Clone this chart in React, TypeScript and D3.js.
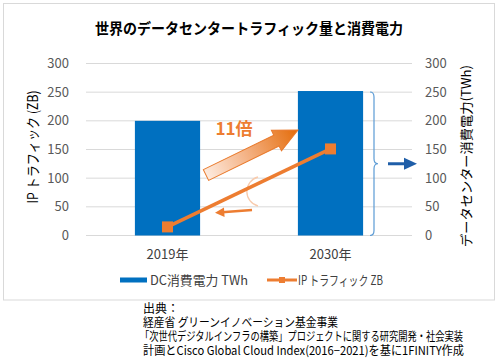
import React from "react";
import * as d3 from "d3";

const categories = ["2019年", "2030年"];
const dcPower = [200, 252];
const ipTraffic = [15, 151];
const yTicks = [0, 50, 100, 150, 200, 250, 300];
const titleText = "世界のデータセンタートラフィック量と消費電力";
const leftAxisTitle = "IP トラフィック (ZB)";
const rightAxisTitle = "データセンター消費電力(TWh)";
const legendLabels = ["DC消費電力 TWh", "IP トラフィック ZB"];
const sourceLines = [
  "出典：",
  "経産省 グリーンイノベーション基金事業",
  "「次世代デジタルインフラの構築」プロジェクトに関する研究開発・社会実装",
  "計画とCisco Global Cloud Index(2016−2021)を基に1FINITY作成",
];
const ratioLabel = "11倍";

const FONT = "'Noto Sans CJK JP', 'Noto Sans', sans-serif";
const BLUE = "#0070c0";
const ORANGE = "#ed7d31";

export default function App() {
  const W = 499, H = 360;
  const x = d3.scaleBand<string>().domain(categories).range([86, 412]).padding(0);
  const y = d3.scaleLinear().domain([0, 300]).range([235.5, 63.5]);
  const bw = x.bandwidth() * 0.4;
  const cx = (c: string) => (x(c) as number) + x.bandwidth() / 2;

  const line = d3
    .line<number>()
    .x((_, i) => cx(categories[i]))
    .y((d) => y(d));

  // big gradient arrow geometry
  const tail: [number, number] = [206, 175];
  const tip: [number, number] = [298, 130];
  const L = Math.hypot(tip[0] - tail[0], tip[1] - tail[1]);
  const ang = (Math.atan2(tip[1] - tail[1], tip[0] - tail[0]) * 180) / Math.PI;
  const headLen = 24, shaftHalf = 6, headHalf = 11.5;
  const arrowPts = [
    [0, -shaftHalf],
    [L - headLen, -shaftHalf],
    [L - headLen, -headHalf],
    [L, 0],
    [L - headLen, headHalf],
    [L - headLen, shaftHalf],
    [0, shaftHalf],
  ]
    .map((p) => p.join(","))
    .join(" ");

  // brace
  const bx = 370, bTop = y(dcPower[1]) + 1, bBot = y(0), bMid = (bTop + bBot) / 2 + 0;
  const bracePath = `M${bx},${bTop} Q${bx + 4},${bTop} ${bx + 4},${bTop + 5} L${bx + 4},${bMid - 5} Q${bx + 4},${bMid} ${bx + 8},${bMid} Q${bx + 4},${bMid} ${bx + 4},${bMid + 5} L${bx + 4},${bBot - 5} Q${bx + 4},${bBot} ${bx},${bBot}`;

  return (
    <svg width={W} height={H} style={{ display: "block", position: "absolute", left: 0, top: 0 }} fontFamily={FONT}>
      <defs>
        <linearGradient id="ag" x1="0" y1="0" x2="1" y2="0">
          <stop offset="0" stopColor="#fdebdf" />
          <stop offset="0.45" stopColor="#f4b183" />
          <stop offset="1" stopColor="#e46c0a" />
        </linearGradient>
      </defs>
      <rect x={0} y={0} width={W} height={H} fill="#fff" />
      <rect x={3.5} y={3.5} width={491} height={296.5} fill="#fff" stroke="#d9d9d9" strokeWidth={1} />

      <text x={249} y={34} textAnchor="middle" fontSize={15} fontWeight="bold" fill="#000" textLength={308} lengthAdjust="spacingAndGlyphs">
        {titleText}
      </text>

      {yTicks.map((t) => (
        <g key={t}>
          <line x1={86} x2={412} y1={y(t)} y2={y(t)} stroke="#d9d9d9" strokeWidth={1} />
          <text x={69} y={y(t) + 4.5} textAnchor="end" fontSize={13} fill="#595959">{t}</text>
          <text x={425} y={y(t) + 4.5} textAnchor="start" fontSize={13} fill="#595959">{t}</text>
        </g>
      ))}

      {categories.map((c, i) => (
        <rect key={c} x={cx(c) - bw / 2} y={y(dcPower[i])} width={bw} height={y(0) - y(dcPower[i])} fill={BLUE} />
      ))}

      {categories.map((c) => (
        <text key={c} x={cx(c)} y={259} textAnchor="middle" fontSize={13} fill="#404040">{c}</text>
      ))}

      {/* annotations */}
      <g transform={`translate(${tail[0]},${tail[1]}) rotate(${ang})`}>
        <polygon points={arrowPts} fill="url(#ag)" stroke="#e97a2c" strokeWidth={1} />
      </g>
      <text x={234} y={135} textAnchor="middle" fontSize={17} fontWeight="bold" fill={ORANGE}>{ratioLabel}</text>
      <path d="M258,177 A15,15 0 0 0 258,206" fill="none" stroke="#f8cbad" strokeWidth={1.3} />
      <line x1={252} y1={210} x2={222} y2={212.3} stroke={ORANGE} strokeWidth={2.5} />
      <polygon points="215,212.8 224,207.6 224.6,217" fill={ORANGE} />

      <path d={line(ipTraffic) as string} fill="none" stroke={ORANGE} strokeWidth={3.5} />
      {categories.map((c, i) => (
        <rect key={c} x={cx(c) - 5.5} y={y(ipTraffic[i]) - 5.5} width={11} height={11} fill={ORANGE} />
      ))}

      <path d={bracePath} fill="none" stroke="#5b9bd5" strokeWidth={1.2} />
      <line x1={388} y1={bMid} x2={406} y2={bMid} stroke="#1f5ea8" strokeWidth={3} />
      <polygon points={`${417},${bMid} ${404},${bMid - 6} ${404},${bMid + 6}`} fill="#1f5ea8" />

      <text transform={`translate(38,147) rotate(-90)`} textAnchor="middle" fontSize={14} fill="#000" textLength={113} lengthAdjust="spacingAndGlyphs">
        {leftAxisTitle}
      </text>
      <text transform={`translate(471,156) rotate(-90)`} textAnchor="middle" fontSize={13} fill="#000" textLength={182} lengthAdjust="spacingAndGlyphs">
        {rightAxisTitle}
      </text>

      {/* legend */}
      <rect x={120} y={277.5} width={27} height={5} fill={BLUE} />
      <text x={150} y={285} fontSize={13} fill="#404040" textLength={98} lengthAdjust="spacingAndGlyphs">{legendLabels[0]}</text>
      <line x1={267} x2={297} y1={280} y2={280} stroke={ORANGE} strokeWidth={3} />
      <rect x={279} y={277} width={6} height={6} fill={ORANGE} />
      <text x={298} y={285} fontSize={13} fill="#404040" textLength={85} lengthAdjust="spacingAndGlyphs">{legendLabels[1]}</text>

      {/* source */}
      <text x={143} y={313} fontSize={12} fill="#000">{sourceLines[0]}</text>
      <text x={143} y={327} fontSize={12} fill="#000" textLength={195} lengthAdjust="spacingAndGlyphs">{sourceLines[1]}</text>
      <text x={140} y={341} fontSize={12} fill="#000" textLength={323} lengthAdjust="spacingAndGlyphs">{sourceLines[2]}</text>
      <text x={143} y={355} fontSize={12} fill="#000" textLength={321} lengthAdjust="spacingAndGlyphs">{sourceLines[3]}</text>
    </svg>
  );
}
